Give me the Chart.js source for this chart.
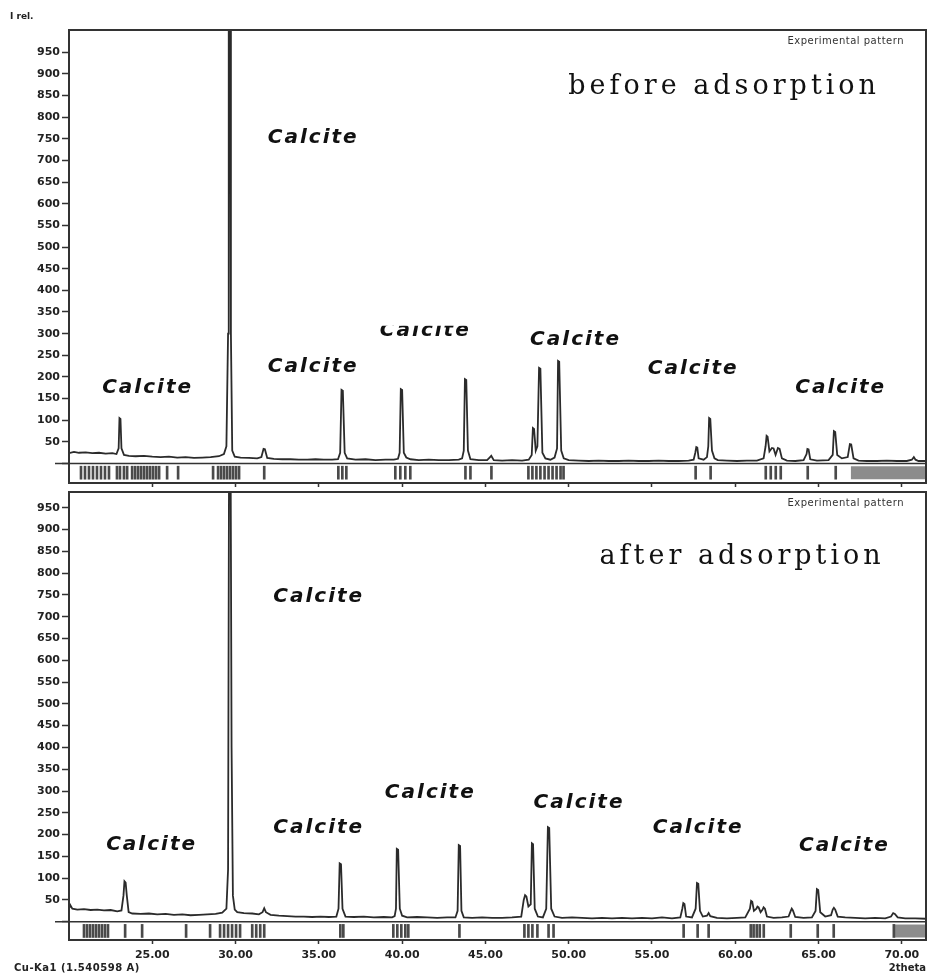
<!DOCTYPE html>
<html>
<head>
<meta charset="utf-8">
<script src="https://cdn.jsdelivr.net/npm/chart.js@4.4.1/dist/chart.umd.min.js"></script>
<style>
  body { margin: 0; background: #fff; width: 928px; height: 976px; overflow: hidden; position: relative; }
  canvas { position: absolute; left: 0; }
  #beforeChart { top: 0; }
  #afterChart { top: 488px; }
</style>
</head>
<body>
<canvas id="beforeChart" width="928" height="488"></canvas>
<canvas id="afterChart" width="928" height="488"></canvas>
<script>
// tick labels
const xTicks = [25, 30, 35, 40, 45, 50, 55, 60, 65, 70];
const yTicks = [0, 50, 100, 150, 200, 250, 300, 350, 400, 450, 500, 550, 600, 650, 700, 750, 800, 850, 900, 950];

// measured pattern before adsorption: [2theta, I rel.]
const patternBefore = [
  [20.0,24],[20.3,27],[20.6,25],[21.0,26],[21.4,24],[21.8,25],[22.2,23],[22.6,24],
  [22.85,22],[22.98,35],[23.03,105],[23.09,103],[23.15,35],[23.3,20],
  [23.6,18],[24.0,17],[24.5,18],[25.0,16],[25.5,15],[26.0,16],[26.5,14],[27.0,15],[27.5,13],[28.0,14],[28.5,15],[29.0,17],[29.3,22],
  [29.45,40],[29.55,300],[29.59,1100],[29.67,1100],[29.72,300],[29.8,30],[29.95,16],
  [30.3,14],[30.8,13],[31.3,12],[31.55,15],[31.68,34],[31.76,33],[31.9,13],[32.3,11],[32.8,10],[33.3,10],[33.8,9],[34.3,9],[34.8,10],[35.3,9],[35.8,9],[36.15,10],
  [36.28,25],[36.36,170],[36.44,168],[36.55,25],[36.7,12],
  [37.2,9],[37.8,10],[38.4,8],[39.0,9],[39.5,9],[39.75,11],
  [39.85,25],[39.92,172],[40.0,170],[40.1,25],[40.25,14],[40.5,10],
  [41.0,8],[41.6,9],[42.2,8],[42.8,8],[43.4,9],[43.6,12],
  [43.7,30],[43.77,195],[43.85,193],[43.95,30],[44.1,10],
  [44.6,8],[45.1,8],[45.25,14],[45.35,18],[45.5,8],[46.0,7],[46.6,8],[47.2,7],[47.6,9],
  [47.78,20],[47.85,82],[47.92,80],[48.02,30],[48.12,40],[48.22,221],[48.3,219],[48.42,25],[48.6,12],[48.9,9],[49.15,14],
  [49.3,35],[49.36,237],[49.43,235],[49.55,30],[49.7,12],[50.0,8],
  [50.6,7],[51.2,6],[51.8,7],[52.4,6],[53.0,6],[53.6,7],[54.2,6],[54.8,6],[55.4,7],[56.0,6],[56.6,6],[57.2,7],[57.5,9],
  [57.6,25],[57.66,38],[57.72,37],[57.8,12],[58.1,9],[58.3,15],
  [58.38,40],[58.43,105],[58.5,103],[58.6,30],[58.75,12],[58.95,8],
  [59.5,7],[60.1,6],[60.7,7],[61.3,7],[61.7,12],
  [61.82,40],[61.88,64],[61.94,62],[62.05,28],[62.2,36],[62.3,35],[62.42,20],[62.56,36],[62.66,34],[62.8,12],[63.1,7],[63.6,6],[64.1,8],
  [64.28,22],[64.33,34],[64.4,33],[64.5,10],[64.9,7],[65.6,8],[65.85,20],
  [65.92,75],[66.0,73],[66.12,20],[66.4,12],[66.75,15],[66.88,45],[66.96,44],[67.1,12],[67.4,7],[67.9,6],[68.5,6],[69.1,7],[69.7,6],[70.3,6],[70.6,9],[70.72,15],[70.82,9],[71.0,6],[71.45,6]
];

// measured pattern after adsorption: [2theta, I rel.]
const patternAfter = [
  [20.0,30],[20.08,38],[20.2,30],[20.5,28],[20.9,29],[21.3,27],[21.7,28],[22.1,26],[22.5,27],[22.9,24],[23.15,26],
  [23.27,60],[23.33,93],[23.4,90],[23.47,60],[23.58,22],[23.8,19],
  [24.3,18],[24.8,19],[25.3,17],[25.8,18],[26.3,16],[26.8,17],[27.3,15],[27.8,16],[28.3,17],[28.8,18],[29.2,21],[29.45,30],
  [29.55,120],[29.61,1100],[29.7,1100],[29.76,400],[29.84,60],[29.95,28],[30.1,22],[30.5,20],[31.0,19],[31.4,17],[31.62,22],[31.72,31],[31.82,22],
  [32.1,16],[32.6,14],[33.1,13],[33.6,12],[34.1,12],[34.6,11],[35.1,12],[35.6,11],[36.05,12],
  [36.18,30],[36.25,134],[36.33,132],[36.42,30],[36.6,12],[37.1,11],[37.7,12],[38.3,10],[38.9,11],[39.4,10],[39.55,13],
  [39.63,30],[39.68,167],[39.76,165],[39.86,30],[40.0,14],[40.3,10],[40.9,11],[41.5,10],[42.1,9],[42.7,10],[43.2,10],
  [43.33,25],[43.4,176],[43.48,174],[43.56,25],[43.7,10],[44.2,9],[44.8,10],[45.4,9],[46.0,9],[46.6,10],[47.15,12],
  [47.3,50],[47.38,61],[47.46,58],[47.58,35],[47.72,40],[47.79,180],[47.86,178],[47.96,30],[48.15,12],[48.45,10],
  [48.65,30],[48.75,217],[48.83,215],[48.95,30],[49.15,12],[49.6,9],[50.2,10],[50.8,9],[51.4,8],[52.0,9],[52.6,8],[53.2,9],[53.8,8],[54.4,9],[55.0,8],[55.6,10],[56.2,8],[56.7,10],
  [56.82,30],[56.88,43],[56.95,41],[57.05,12],[57.4,10],[57.62,30],[57.7,89],[57.78,87],[57.88,25],[58.05,12],[58.3,14],[58.4,20],[58.5,13],[58.9,9],[59.5,8],[60.1,9],[60.6,10],
  [60.88,30],[60.95,48],[61.02,46],[61.12,25],[61.27,30],[61.33,35],[61.4,33],[61.52,22],[61.64,28],[61.7,33],[61.78,30],[61.9,12],[62.3,9],[62.8,10],
  [63.2,12],[63.33,25],[63.39,30],[63.46,26],[63.6,11],[64.1,9],[64.6,10],[64.82,25],
  [64.9,75],[64.98,73],[65.1,22],[65.4,12],[65.75,15],[65.85,28],[65.92,32],[66.0,28],[66.15,12],[66.6,10],[67.2,9],[67.8,8],[68.4,9],[69.0,8],
  [69.35,12],[69.48,20],[69.58,18],[69.75,10],[70.2,8],[70.8,8],[71.45,7]
];

// reference line positions (2theta) shown below the pattern
const sticksBefore = [
  20.72,20.96,21.2,21.44,21.68,21.92,22.16,22.4,22.88,23.06,23.3,23.49,
  23.79,23.97,24.15,24.33,24.51,24.69,24.87,25.05,25.23,25.41,25.89,26.55,
  28.65,28.95,29.13,29.31,29.49,29.67,29.85,30.03,30.21,31.72,
  36.17,36.41,36.65,39.59,39.89,40.19,40.49,43.8,44.1,45.36,
  47.58,47.82,48.06,48.3,48.55,48.79,49.03,49.27,49.51,49.69,
  57.62,58.52,61.83,62.13,62.43,62.73,64.35,66.03
];
const sticksAfter = [
  20.9,21.08,21.26,21.44,21.62,21.8,21.98,22.16,22.34,23.37,24.39,27.03,28.47,
  29.07,29.31,29.55,29.79,30.03,30.27,31.0,31.24,31.48,31.72,
  36.29,36.47,39.47,39.71,39.95,40.19,40.37,43.44,47.34,47.58,47.82,48.12,48.79,49.09,
  56.9,57.74,58.4,60.93,61.1,61.29,61.47,61.71,63.33,64.95,65.91,69.52
];
const blockBefore = [66.93, 71.45];
const blockAfter = [69.55, 71.45];
const stickSpan = [-36, -6];

const lineColor = '#2b2b2b';
const tickFont = { family: 'DejaVu Sans', size: 11, weight: 'bold' };

const panelText = {
  id: 'panelText',
  afterDraw(chart, args, opts) {
    const { ctx, chartArea: a, scales: { x, y } } = chart;
    ctx.save();
    ctx.strokeStyle = '#333';
    ctx.lineWidth = 2;
    ctx.strokeRect(a.left, a.top, a.width, a.height);
    // zero line reaches out past the axis
    const y0 = y.getPixelForValue(0);
    ctx.lineWidth = 1.5;
    ctx.beginPath();
    ctx.moveTo(a.left - 14, y0);
    ctx.lineTo(a.right, y0);
    ctx.stroke();

    ctx.fillStyle = '#111';
    ctx.textAlign = 'center';
    ctx.textBaseline = 'middle';
    ctx.font = 'italic bold 20px "DejaVu Sans"';
    ctx.letterSpacing = '2px';
    opts.labels.forEach(l => {
      ctx.save();
      if (l.clip) {
        ctx.beginPath();
        ctx.rect(0, y.getPixelForValue(l.clip), chart.width, chart.height);
        ctx.clip();
      }
      ctx.fillText('Calcite', x.getPixelForValue(l.x), y.getPixelForValue(l.y));
      ctx.restore();
    });

    ctx.font = '27px "DejaVu Serif"';
    ctx.letterSpacing = '4px';
    ctx.fillText(opts.title.text, x.getPixelForValue(opts.title.x), y.getPixelForValue(opts.title.y));

    ctx.letterSpacing = '0.5px';
    ctx.fillStyle = '#333';
    ctx.font = '10px "DejaVu Sans"';
    ctx.textAlign = 'right';
    ctx.fillText('Experimental pattern', a.right - 22, a.top + 11);

    ctx.font = 'bold 10px "DejaVu Sans"';
    ctx.fillStyle = '#222';
    if (opts.header) {
      ctx.letterSpacing = '0px';
      ctx.font = 'bold 9px "DejaVu Sans"';
      ctx.textAlign = 'left';
      ctx.fillText('I rel.', 10, 17);
    }
    if (opts.footer) {
      ctx.textAlign = 'left';
      ctx.fillText('Cu-Ka1 (1.540598 A)', 14, chart.height - 8);
      ctx.letterSpacing = '0px';
      ctx.textAlign = 'right';
      ctx.fillText('2theta', a.right, chart.height - 8);
    }
    ctx.restore();
  }
};

function makeChart(id, pattern, sticks, block, yMin, yMax, padTop, xHeight, showLabels, textOpts) {
  return new Chart(document.getElementById(id), {
    type: 'line',
    data: {
      datasets: [
        {
          data: pattern.map(p => ({ x: p[0], y: p[1] })),
          borderColor: lineColor,
          borderWidth: 1.8,
          pointRadius: 0,
          tension: 0
        },
        {
          type: 'bar',
          data: sticks.map(s => ({ x: s, y: stickSpan })),
          backgroundColor: '#4a4a4a',
          barThickness: 2
        },
        {
          data: block.map(b => ({ x: b, y: stickSpan[1] })),
          borderWidth: 0,
          pointRadius: 0,
          backgroundColor: '#8c8c8c',
          fill: { value: stickSpan[0] }
        }
      ]
    },
    options: {
      responsive: false,
      animation: false,
      layout: { padding: { top: padTop, right: 2, left: 0, bottom: 0 } },
      plugins: {
        legend: { display: false },
        tooltip: { enabled: false },
        panelText: textOpts
      },
      scales: {
        x: {
          type: 'linear',
          min: 20,
          max: 71.45,
          offset: false,
          afterBuildTicks: s => { s.ticks = xTicks.map(v => ({ value: v })); },
          afterFit: s => { s.height = xHeight; s.paddingLeft = 0; s.paddingRight = 0; },
          ticks: {
            display: showLabels,
            autoSkip: false,
            maxRotation: 0,
            padding: 5,
            color: '#222',
            font: tickFont,
            callback: v => v.toFixed(2)
          },
          grid: { offset: false, drawOnChartArea: false, tickLength: 4, tickColor: '#333', tickWidth: 1.5 },
          border: { display: true, color: '#333', width: 2 }
        },
        y: {
          type: 'linear',
          min: yMin,
          max: yMax,
          afterBuildTicks: s => { s.ticks = yTicks.map(v => ({ value: v })); },
          afterFit: s => { s.width = 69; s.paddingTop = 0; s.paddingBottom = 0; },
          ticks: {
            padding: 2,
            color: '#222',
            font: tickFont,
            callback: v => v === 0 ? '' : v
          },
          grid: { color: 'rgba(0,0,0,0)', tickLength: 7, tickColor: '#333', tickWidth: 1.5 },
          border: { display: true, color: '#333', width: 2 }
        }
      }
    },
    plugins: [panelText]
  });
}

makeChart('beforeChart', patternBefore, sticksBefore, blockBefore, -44.8, 1001, 30, 5, false, {
  header: true,
  footer: false,
  title: { text: 'before adsorption', x: 59.33, y: 870 },
  labels: [
    { x: 24.72, y: 175 }, { x: 34.66, y: 752 }, { x: 34.66, y: 223 },
    { x: 41.39, y: 306, clip: 318 }, { x: 50.41, y: 285 }, { x: 57.47, y: 220 }, { x: 66.33, y: 176 }
  ]
});

makeChart('afterChart', patternAfter, sticksAfter, blockAfter, -41.8, 986, 4, 36, true, {
  header: false,
  footer: true,
  title: { text: 'after adsorption', x: 60.41, y: 836 },
  labels: [
    { x: 24.96, y: 176 }, { x: 34.99, y: 745 }, { x: 34.99, y: 215 },
    { x: 41.69, y: 296 }, { x: 50.62, y: 272 }, { x: 57.77, y: 215 }, { x: 66.55, y: 174 }
  ]
});
</script>
</body>
</html>
